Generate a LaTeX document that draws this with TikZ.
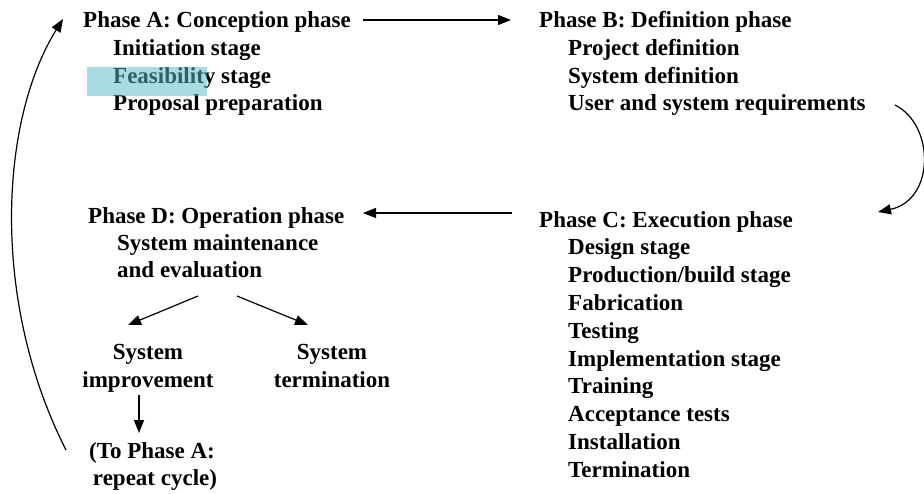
\documentclass[tikz,border=0pt]{standalone}
\usepackage{fontspec}
\setmainfont{Liberation Serif}
\usetikzlibrary{arrows.meta}
\begin{document}
\begin{tikzpicture}[x=1pt,y=-1pt,
  txt/.style={inner sep=0pt,font=\fontsize{23}{27.8}\selectfont\bfseries},
  line/.style={txt,anchor=base west},
  cline/.style={txt,anchor=base},
  arr/.style={line width=1.2pt,-{Triangle[length=13pt,width=10pt]}},
  highlighter/.style={fill={rgb,255:red,87;green,187;blue,200},fill opacity=0.52,draw=none}]
\useasboundingbox (0,0) rectangle (924,493);

% Phase A
\node[line] (A)  at (83,27)  {Phase A: Conception phase};
\node[line] (A1) at (113,55) {Initiation stage};
\node[line] (A2) at (113,83) {Feasibility stage};
\node[line] (A3) at (113,110) {Proposal preparation};

% Phase B
\node[line] (B)  at (539,27)  {Phase B: Definition phase};
\node[line] (B1) at (568,55)  {Project definition};
\node[line] (B2) at (568,83)  {System definition};
\node[line] (B3) at (568,110) {User and system requirements};

% Phase C
\node[line] (C)  at (539,227)   {Phase C: Execution phase};
\node[line] (C1) at (568,254.8) {Design stage};
\node[line] (C2) at (568,282.6) {Production/build stage};
\node[line] (C3) at (568,310.4) {Fabrication};
\node[line] (C4) at (568,338.2) {Testing};
\node[line] (C5) at (568,366)   {Implementation stage};
\node[line] (C6) at (568,393.8) {Training};
\node[line] (C7) at (568,421.6) {Acceptance tests};
\node[line] (C8) at (568,449.4) {Installation};
\node[line] (C9) at (568,477.2) {Termination};

% Phase D
\node[line] (D)  at (88,223)  {Phase D: Operation phase};
\node[line] (D1) at (117,250) {System maintenance};
\node[line] (D2) at (117,277) {and evaluation};

% Outcomes of operation
\node[cline] (I1) at (148,359) {System};
\node[cline] (I2) at (148,387) {improvement};
\node[cline] (T1) at (332,359) {System};
\node[cline] (T2) at (332,387) {termination};
\node[cline] (R1) at (152,458) {(To Phase A:};
\node[cline] (R2) at (155,485) {repeat cycle)};

% highlighter stroke over part of the feasibility line
\fill[highlighter] (87,67) rectangle (207,96);

% connector end points
\coordinate (ab0) at (363,20);
\coordinate (ab1) at (511,20);
\coordinate (bc0) at (895,105);
\coordinate (bc1) at (878,212);
\coordinate (cd0) at (512,213);
\coordinate (cd1) at (363,213);
\coordinate (di0) at (198,296);
\coordinate (di1) at (128,325);
\coordinate (dt0) at (237,296);
\coordinate (dt1) at (308,325);
\coordinate (ir0) at (139,395);
\coordinate (ir1) at (139,433);
\coordinate (ra0) at (66,450);
\coordinate (ra1) at (63,19);

\draw[arr] (ab0) -- (ab1);
\draw[arr] (bc0) .. controls (935,125) and (935,200) .. (bc1);
\draw[arr] (cd0) -- (cd1);
\draw[arr] (di0) -- (di1);
\draw[arr] (dt0) -- (dt1);
\draw[arr] (ir0) -- (ir1);
\draw[arr] (ra0) .. controls (-10,300) and (0,120) .. (ra1);
\end{tikzpicture}
\end{document}
